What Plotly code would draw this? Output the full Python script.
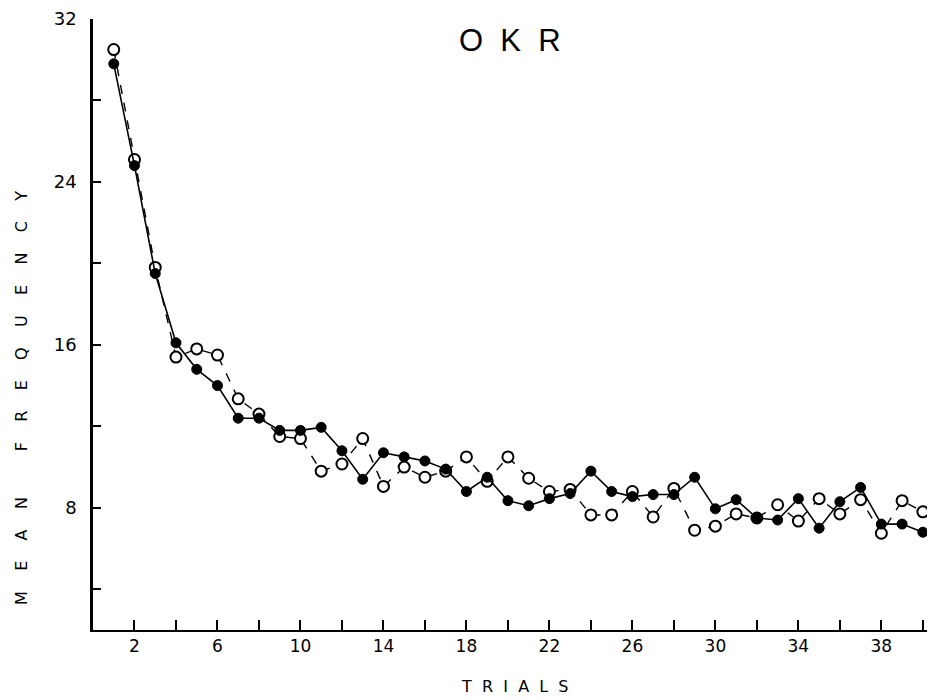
import plotly.graph_objects as go

trials = list(range(1, 41))
filled = [29.8, 24.8, 19.5, 16.1, 14.8, 14.0, 12.4, 12.4, 11.8, 11.8,
          11.95, 10.8, 9.4, 10.7, 10.5, 10.3, 9.9, 8.8, 9.5, 8.35,
          8.1, 8.45, 8.7, 9.8, 8.8, 8.55, 8.65, 8.65, 9.5, 7.95,
          8.4, 7.5, 7.4, 8.45, 7.0, 8.3, 9.0, 7.2, 7.2, 6.8]
opened = [30.5, 25.1, 19.8, 15.4, 15.8, 15.5, 13.35, 12.6, 11.5, 11.4,
          9.8, 10.15, 11.4, 9.05, 10.0, 9.5, 9.8, 10.5, 9.3, 10.5,
          9.45, 8.8, 8.9, 7.65, 7.65, 8.8, 7.55, 8.95, 6.9, 7.1,
          7.7, 7.5, 8.15, 7.35, 8.45, 7.7, 8.4, 6.75, 8.35, 7.8]

x_tickvals = list(range(2, 41, 2))
x_ticktext = [str(v) if v % 4 == 2 else "" for v in x_tickvals]
y_tickvals = [4, 8, 12, 16, 20, 24, 28, 32]
y_ticktext = ["", "8", "", "16", "", "24", "", "32"]

NB = "\u00a0"


def spaced(word_list, gap=2, wgap=6):
    return (NB * wgap).join((NB * gap).join(w) for w in word_list)


fig = go.Figure()
fig.add_trace(go.Scatter(
    x=trials, y=opened, mode="lines+markers",
    line=dict(color="black", width=1.4, dash="dash"),
    marker=dict(symbol="circle", size=11, color="white",
                line=dict(color="black", width=2)),
    showlegend=False))
fig.add_trace(go.Scatter(
    x=trials, y=filled, mode="lines+markers",
    line=dict(color="black", width=1.6),
    marker=dict(symbol="circle", size=10, color="black",
                line=dict(color="black", width=1)),
    showlegend=False))

fig.update_layout(
    width=929, height=700,
    margin=dict(l=93, r=2, t=19, b=70),
    paper_bgcolor="white", plot_bgcolor="white",
    font=dict(family="DejaVu Sans", color="black"),
    xaxis=dict(range=[0, 40.2], tickvals=x_tickvals, ticktext=x_ticktext,
               ticks="inside", ticklen=10, tickwidth=1.5, tickcolor="black",
               showline=True, linecolor="black", linewidth=2,
               showgrid=False, zeroline=False,
               tickfont=dict(size=17, family="DejaVu Sans")),
    yaxis=dict(range=[2, 32], tickvals=y_tickvals, ticktext=y_ticktext,
               ticks="inside", ticklen=8, tickwidth=1.5, tickcolor="black",
               showline=True, linecolor="black", linewidth=2.5,
               showgrid=False, zeroline=False, ticklabelstandoff=10,
               tickfont=dict(size=18, family="DejaVu Sans")),
)
fig.add_annotation(text=spaced(["OKR"], gap=2), xref="paper", yref="paper",
                   x=0.5, y=1 - 22 / 611,
                   xanchor="center", yanchor="middle", showarrow=False,
                   font=dict(size=31, family="Liberation Sans", color="black"))
fig.add_annotation(text=spaced(["TRIALS"], gap=2), xref="paper", yref="paper",
                   x=0.505, y=-56 / 611,
                   xanchor="center", yanchor="middle", showarrow=False,
                   font=dict(size=16, family="DejaVu Sans", color="black"))
fig.add_annotation(text=spaced(["MEAN", "FREQUENCY"], gap=4, wgap=9),
                   xref="paper", yref="paper",
                   x=-72 / 834, y=1 - (398 - 19) / 611, textangle=-90,
                   xanchor="center", yanchor="middle", showarrow=False,
                   font=dict(size=16, family="DejaVu Sans", color="black"))

fig.write_html("out.html")
